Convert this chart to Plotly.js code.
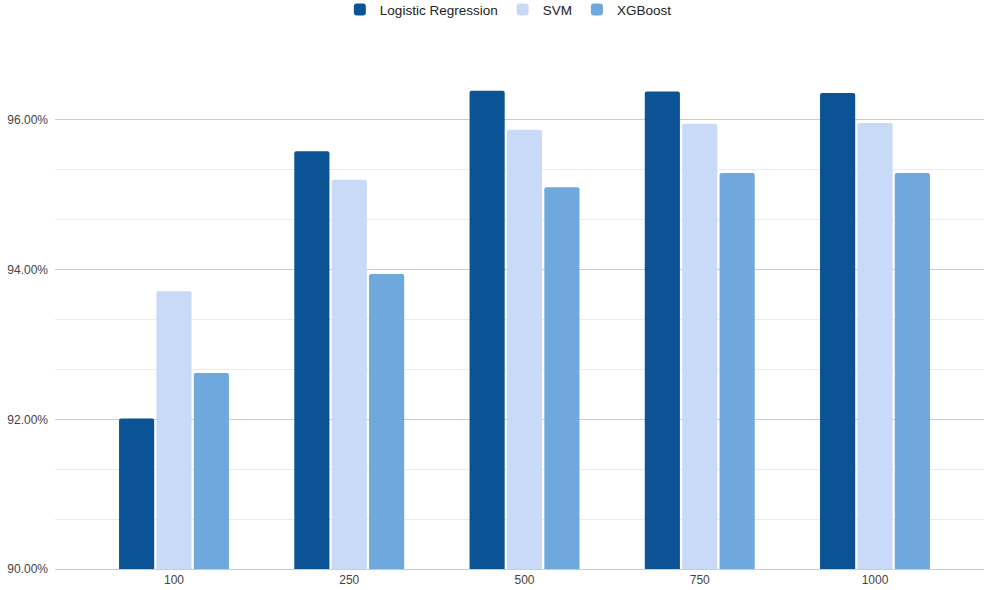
<!DOCTYPE html>
<html>
<head>
<meta charset="utf-8">
<script src="https://cdn.plot.ly/plotly-3.0.1.min.js"></script>
<style>html,body{margin:0;padding:0;background:#fff;}#chart{width:984px;height:590px;}</style>
</head>
<body>
<div id="chart"></div>
<script>
const categories = ['100', '250', '500', '750', '1000'];
const logisticRegression = [92.01, 95.58, 96.39, 96.38, 96.36];
const svm = [93.71, 95.20, 95.87, 95.95, 95.96];
const xgboost = [92.62, 93.94, 95.10, 95.29, 95.29];
const seriesNames = ['Logistic Regression', 'SVM', 'XGBoost'];
const yTickVals = [90, 92, 94, 96];
const yTickText = ['90.00%', '92.00%', '94.00%', '96.00%'];

const colors = ['#0b5394', '#c9daf8', '#6fa8dc'];
const seriesData = [logisticRegression, svm, xgboost];

const traces = seriesData.map((vals, i) => ({
  type: 'bar',
  name: seriesNames[i],
  x: categories,
  y: vals,
  marker: {color: colors[i], line: {width: 0}, cornerradius: 2},
  hoverinfo: 'x+y+name'
}));

const layout = {
  width: 984,
  height: 590,
  margin: {l: 55, r: 0, t: 70, b: 21, autoexpand: false},
  paper_bgcolor: '#ffffff',
  plot_bgcolor: '#ffffff',
  font: {family: 'Liberation Sans, Arial, sans-serif', size: 12, color: '#444444'},
  barmode: 'group',
  bargap: 0.36,
  bargroupgap: 0.06,
  showlegend: true,
  legend: {
    orientation: 'h',
    xref: 'paper', yref: 'paper',
    x: 0.488, xanchor: 'center',
    y: 1.152, yanchor: 'top',
    font: {size: 13.5, color: '#222222'},
    itemwidth: 30,
    traceorder: 'normal'
  },
  xaxis: {
    type: 'category',
    range: [-0.679, 4.622],
    showgrid: false,
    showline: true,
    linecolor: '#cccccc',
    linewidth: 1,
    ticks: '',
    tickfont: {size: 12, color: '#444444'},
    zeroline: false,
    fixedrange: true
  },
  yaxis: {
    range: [90, 96.6667],
    tickmode: 'array',
    tickvals: yTickVals,
    ticktext: yTickText,
    showgrid: true,
    gridcolor: '#cccccc',
    gridwidth: 1,
    zeroline: false,
    showline: false,
    ticks: '',
    ticklabelstandoff: 6,
    tickfont: {size: 12, color: '#444444'},
    minor: {tick0: 90, dtick: 2/3, showgrid: true, gridcolor: '#ebebeb', gridwidth: 1, ticks: ''},
    fixedrange: true
  }
};

Plotly.newPlot('chart', traces, layout, {displayModeBar: false, staticPlot: true});
</script>
</body>
</html>
